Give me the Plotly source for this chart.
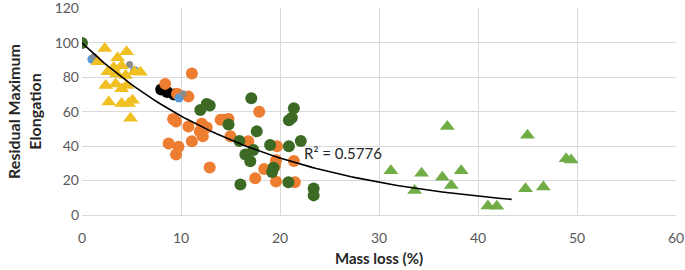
import numpy as np
import plotly.graph_objects as go

# ---- data ----
dark_green_x = [0, 11.95, 12.6, 12.9, 14.8, 17.1, 21.4, 20.9, 21.2, 17.65, 15.9, 19.0, 20.9, 22.1,
                17.3, 16.5, 17.0, 19.35, 19.2, 16.0, 20.85, 23.4, 23.4]
dark_green_y = [100, 61, 64.5, 63.6, 52.6, 67.8, 62, 55, 56.5, 48.6, 43, 40.7, 40, 43,
                37.8, 35.2, 31.2, 27.4, 25, 17.7, 19, 15.4, 11.4]

orange_x = [8.4, 11.1, 9.6, 10.75, 9.2, 9.5, 10.75, 12.1, 12.6, 11.9, 14.0, 14.3, 14.8, 12.2,
            11.1, 8.75, 9.75, 9.5, 12.9, 15.0, 16.8, 17.9, 19.7, 19.6, 21.4, 18.4, 17.5, 19.6, 21.5, 19.5]
orange_y = [76.2, 82.3, 70.5, 68.8, 55.8, 54.3, 51.4, 53, 50.8, 48.6, 55.3, 55.3, 55.8, 45.7,
            42.9, 41.5, 39.6, 35.2, 27.6, 45.7, 42.9, 60, 40, 31.8, 31.4, 26.7, 21.3, 19.5, 19, 28.6]

yellow_x = [2.3, 4.5, 3.6, 3.2, 4.0, 2.6, 3.5, 4.4, 5.3, 5.9, 2.4, 3.4, 4.0, 4.5, 2.7, 4.0, 4.7, 5.1, 4.9, 1.6]
yellow_y = [96.7, 94.9, 91.4, 85.7, 86.7, 83.3, 81.9, 81, 83.3, 82.9, 75.2, 76.2, 73.3, 75.2,
            65.7, 64.8, 64.8, 66.7, 56.2, 89]

light_green_x = [36.9, 31.2, 34.3, 33.6, 36.4, 38.3, 37.3, 41.0, 41.9, 45.0, 48.9, 49.4, 44.8, 46.6]
light_green_y = [51.4, 25.7, 24.2, 14.3, 21.9, 25.7, 17.1, 5.3, 5.1, 46.3, 32.7, 32.0, 15.3, 16.2]

black_x = [8.0, 8.6, 9.3]
black_y = [73, 71.5, 70]

blue_x = [1.0, 5.3, 9.8]
blue_y = [90.5, 84, 68]

gray_x = [1.2, 4.8, 10.2]
gray_y = [92, 87.5, 70.5]

# exponential trendline y = a * exp(b x), coefficients
trend_a = 100.0
trend_b = -0.0553
trend_x_end = 43.4
r2_text = "R² = 0.5776"

tx = np.linspace(0, trend_x_end, 100)
ty = trend_a * np.exp(trend_b * tx)

fig = go.Figure()


def add(x, y, color, symbol, size):
    fig.add_trace(go.Scatter(x=x, y=y, mode="markers",
                             marker=dict(color=color, symbol=symbol, size=size, line=dict(width=0)),
                             showlegend=False))


add(black_x, black_y, "#000000", "circle", 12)
add(orange_x, orange_y, "#ED7D31", "circle", 12)
add(blue_x, blue_y, "#5B9BD5", "circle", 9)
add(gray_x, gray_y, "#8C8C8C", "circle", 7)
add(yellow_x, yellow_y, "#F0BF22", "triangle-up", 13)
add(dark_green_x, dark_green_y, "#3C6A25", "circle", 12)
add(light_green_x, light_green_y, "#70AD47", "triangle-up", 13)

fig.add_trace(go.Scatter(x=tx, y=ty, mode="lines", line=dict(color="#000000", width=1.6),
                         showlegend=False, hoverinfo="skip"))

fig.add_annotation(x=22.2, y=36, text=r2_text, showarrow=False, xanchor="left", yanchor="middle",
                   font=dict(family="Lato", size=15, color="#262626"))

font = "Lato"
fig.update_layout(
    width=685, height=270,
    margin=dict(l=82, r=9, t=8, b=55),
    paper_bgcolor="white", plot_bgcolor="white",
    font=dict(family=font, size=14, color="#595959"),
    xaxis=dict(range=[0, 60], tickvals=[0, 10, 20, 30, 40, 50, 60], showgrid=True,
               gridcolor="#D9D9D9", gridwidth=1.3, automargin=False, ticklabeloverflow="allow",
               zeroline=False, showline=True, linecolor="#D9D9D9", linewidth=1.3,
               ticks="", tickfont=dict(size=14, color="#595959"), ticklabelstandoff=10,
               title=dict(text="<b>Mass loss (%)</b>", font=dict(size=15, color="#262626"), standoff=8)),
    yaxis=dict(range=[0, 120.3], tickvals=[0, 20, 40, 60, 80, 100, 120], showgrid=True,
               gridcolor="#D9D9D9", gridwidth=1.3, automargin=False, ticklabeloverflow="allow",
               zeroline=False, showline=False, ticks="", tickfont=dict(size=14, color="#595959"),
               ticklabelstandoff=2,
               title=dict(text="<b>Residual Maximum<br>Elongation</b>", font=dict(size=16, color="#262626"),
                          standoff=9)),
)

fig.write_html("out.html", config={"displayModeBar": False},
               post_script="document.body.style.margin='0px';")
